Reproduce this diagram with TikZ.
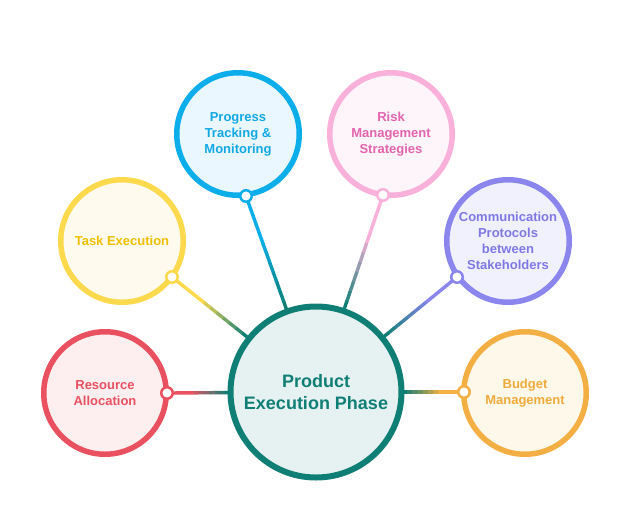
\documentclass[tikz,border=0pt]{standalone}
\usepackage{fontspec}
\setmainfont{Liberation Sans}
\usetikzlibrary{calc,backgrounds}

\definecolor{teal}{HTML}{0F7F75}
\definecolor{tealfill}{HTML}{E6F1F1}
\definecolor{resred}{HTML}{EA5160}
\definecolor{resfill}{HTML}{FDEEF0}
\definecolor{taskyel}{HTML}{FDD94E}
\definecolor{tasktxt}{HTML}{F0C000}
\definecolor{taskfill}{HTML}{FFFAEE}
\definecolor{progblue}{HTML}{0BAEEA}
\definecolor{progtxt}{HTML}{12A8E6}
\definecolor{progfill}{HTML}{EAF7FE}
\definecolor{riskpink}{HTML}{F9B0DA}
\definecolor{risktxt}{HTML}{E464AE}
\definecolor{riskfill}{HTML}{FEF5FA}
\definecolor{commpurp}{HTML}{8B85EE}
\definecolor{commtxt}{HTML}{7F79E8}
\definecolor{commfill}{HTML}{F1F0FD}
\definecolor{budgorng}{HTML}{F3AE44}
\definecolor{budgtxt}{HTML}{F2AA3C}
\definecolor{budgfill}{HTML}{FEF8EB}

\tikzset{
  hub/.style={circle, draw=teal, fill=tealfill, line width=6pt, minimum size=171pt,
    align=center, text=teal, font=\bfseries\fontsize{18}{22.5}\selectfont},
  topic/.style={circle, line width=5.5pt, minimum size=122.5pt, inner sep=0pt,
    align=center, font=\bfseries\fontsize{13}{16}\selectfont},
  knob/.style={circle, fill=white, line width=2.5pt, minimum size=11.5pt, inner sep=0pt},
}

% connector: colour of the topic, fading into teal before the hub
\newcommand{\fadelink}[3]{%
  \coordinate (fadeend) at ($(#2.center)!86pt!(#1.center)$);
  \foreach \i in {0,...,11}{
    \pgfmathtruncatemacro\p{max(0,min(100,(11-\i)*100/7))}
    \draw[line width=3.4pt, draw=#3!\p!teal]
      ($(#1.center)!\i/12!(fadeend)$) -- ($(#1.center)!\i/12+1/12+0.005!(fadeend)$);
  }
}

\begin{document}
\begin{tikzpicture}[x=1pt, y=-1pt]
    \useasboundingbox (0,0) rectangle (629,507);

    % hub
    \node[hub] (main) at (316,392) {Product\\Execution Phase};

    % topics
    \node[topic, draw=resred, fill=resfill, text=resred] (res) at (105,393) {Resource\\Allocation};
    \node[topic, draw=taskyel, fill=taskfill, text=tasktxt] (task) at (122,241) {Task Execution};
    \node[topic, draw=progblue, fill=progfill, text=progtxt] (prog) at (238,134) {Progress\\Tracking \&\\Monitoring};
    \node[topic, draw=riskpink, fill=riskfill, text=risktxt] (risk) at (391,134) {Risk\\Management\\Strategies};
    \node[topic, draw=commpurp, fill=commfill, text=commtxt] (comm) at (508,241) {Communication\\Protocols\\between\\Stakeholders};
    \node[topic, draw=budgorng, fill=budgfill, text=budgtxt] (budg) at (525,393) {Budget\\Management};

    % knobs on the rings
    \node[knob, draw=resred] (resknob) at (167,393) {};
    \node[knob, draw=taskyel] (taskknob) at (172,277) {};
    \node[knob, draw=progblue] (progknob) at (246,196) {};
    \node[knob, draw=riskpink] (riskknob) at (383,195) {};
    \node[knob, draw=commpurp] (commknob) at (457,277) {};
    \node[knob, draw=budgorng] (budgknob) at (464,392) {};

    % links
    \begin{scope}[on background layer]
    \fadelink{resknob}{main}{resred}
    \fadelink{taskknob}{main}{taskyel}
    \fadelink{progknob}{main}{progblue}
    \fadelink{riskknob}{main}{riskpink}
    \fadelink{commknob}{main}{commpurp}
    \fadelink{budgknob}{main}{budgorng}
    \end{scope}
\end{tikzpicture}
\end{document}
